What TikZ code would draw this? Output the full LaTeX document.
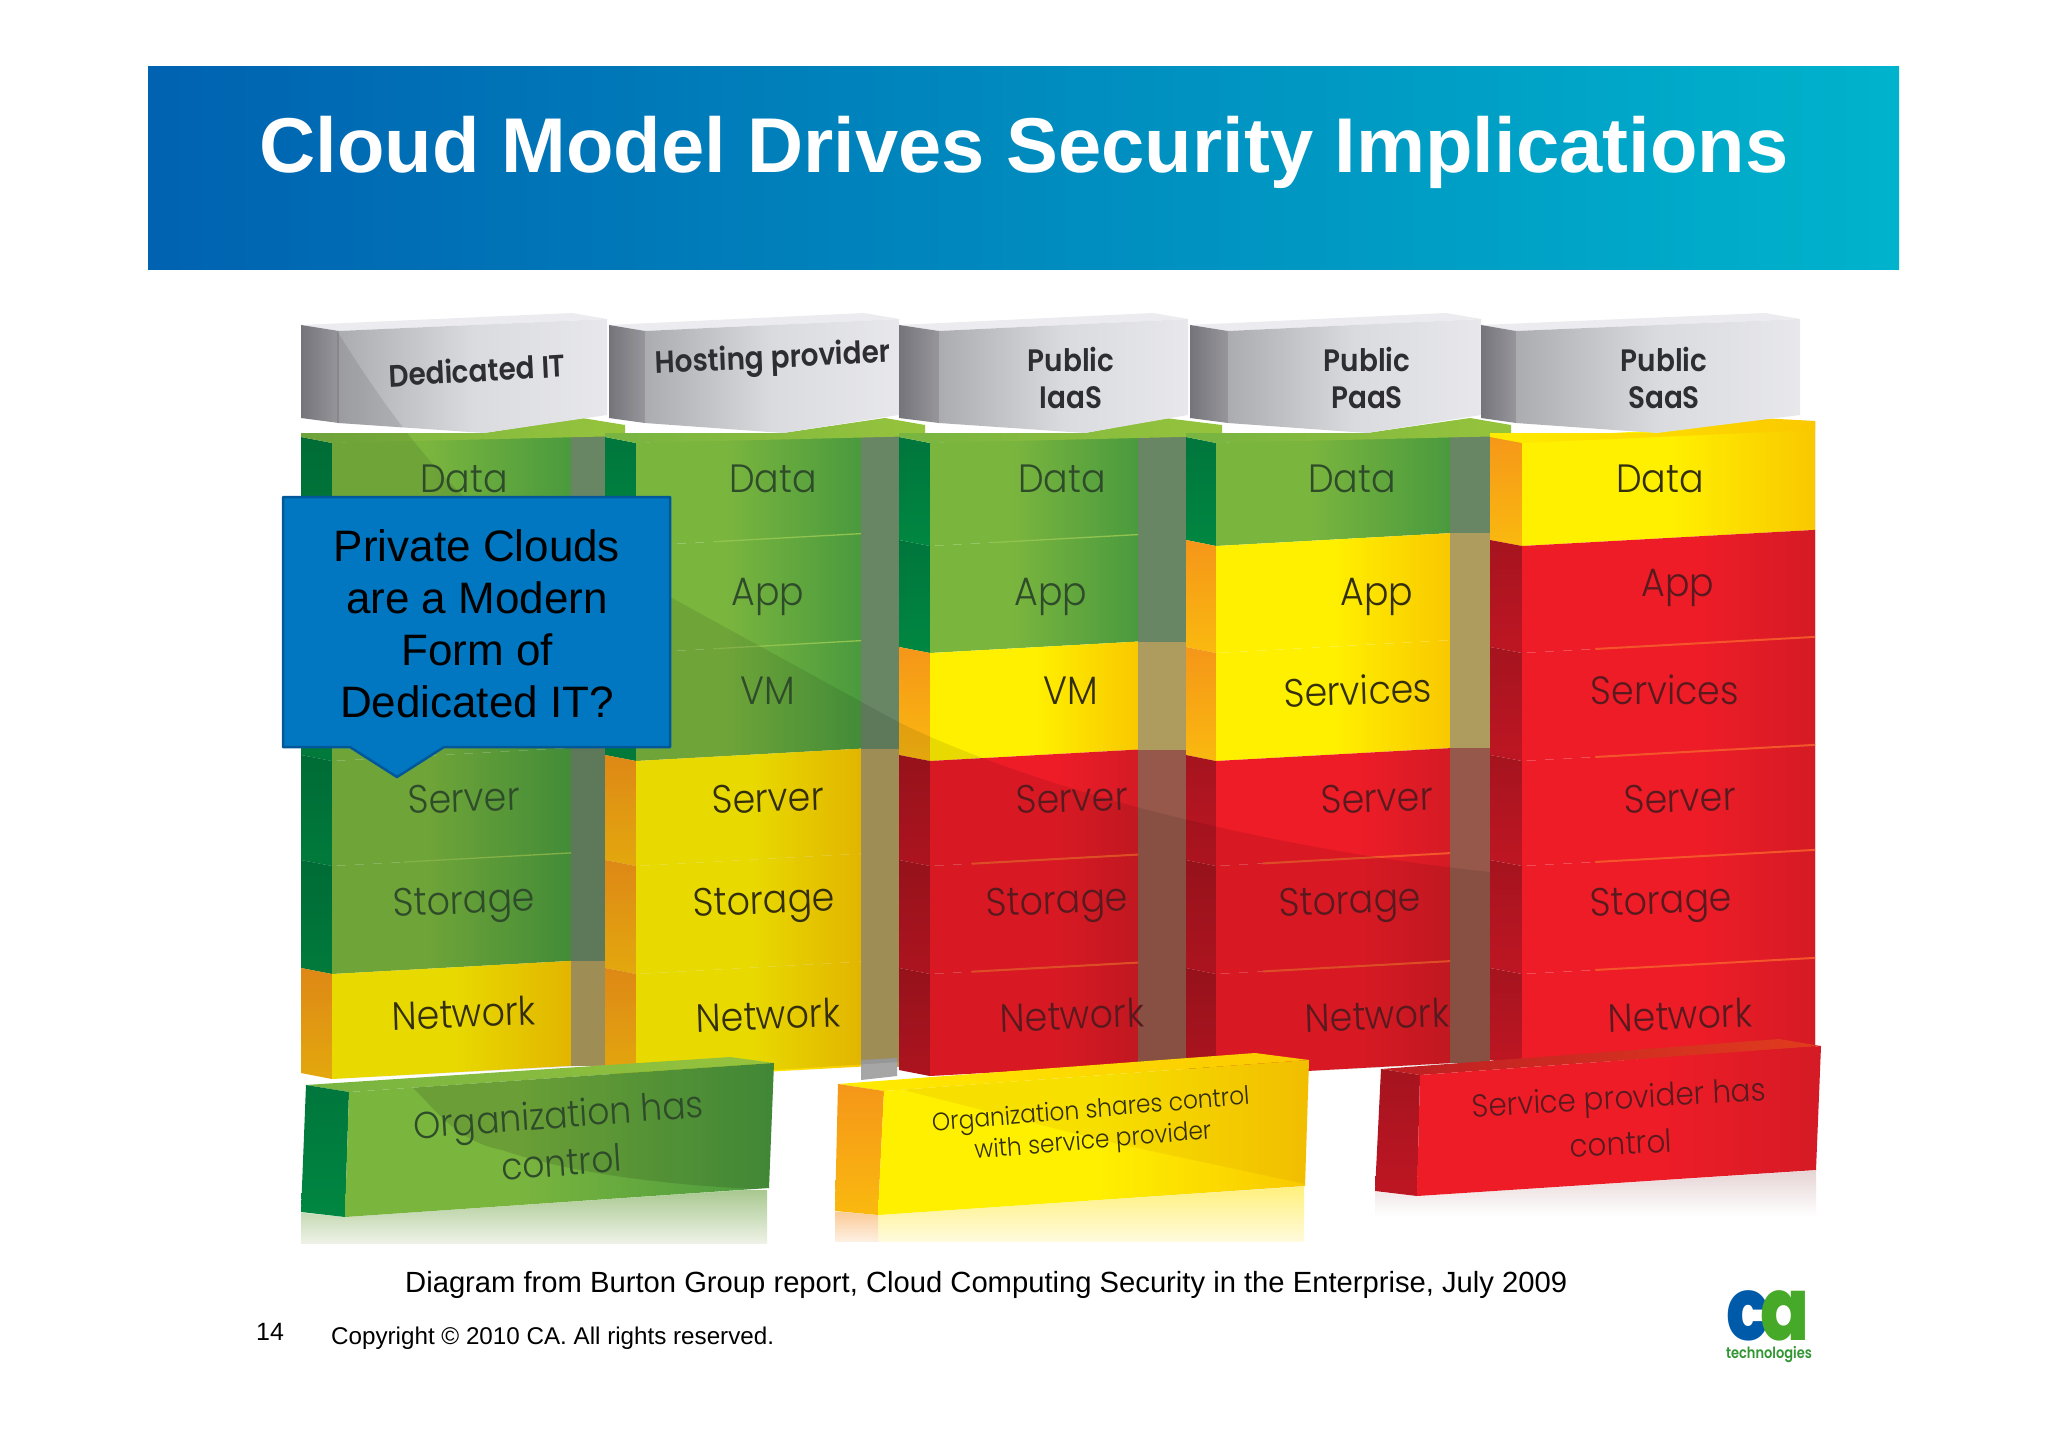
\documentclass[tikz,border=0pt]{standalone}
\usepackage{fontspec}
\setmainfont{Liberation Sans}
\newfontfamily\labf{Poppins Light}
\newfontfamily\headf{Poppins SemiBold}
\newfontfamily\logof{Poppins ExtraBold}
\usetikzlibrary{calc}
\definecolor{blueA}{HTML}{0062B1}
\definecolor{blueM}{HTML}{0086BE}
\definecolor{blueB}{HTML}{00B3CC}
\definecolor{onG}{HTML}{2F4C2A}
\definecolor{onY}{HTML}{332E0C}
\definecolor{onR}{HTML}{581A1E}
\definecolor{gl}{HTML}{7AB53E}
\definecolor{gr}{HTML}{4A9A3E}
\definecolor{yl}{HTML}{FFF000}
\definecolor{yr}{HTML}{F9C800}
\definecolor{rl}{HTML}{EE1C27}
\definecolor{rr}{HTML}{D41B25}
\definecolor{sGa}{HTML}{00763C}
\definecolor{sGb}{HTML}{008741}
\definecolor{sYa}{HTML}{F59619}
\definecolor{sYb}{HTML}{FAB90F}
\definecolor{sRa}{HTML}{A5141E}
\definecolor{sRb}{HTML}{BE1623}
\definecolor{tG}{HTML}{688664}
\definecolor{tY}{HTML}{AE9C5E}
\definecolor{tR}{HTML}{96584A}
\definecolor{hG}{HTML}{91C350}
\definecolor{hY}{HTML}{F0E13C}
\definecolor{hR}{HTML}{F4552A}
\definecolor{lGa}{HTML}{78B441}
\definecolor{lGb}{HTML}{96C33C}
\definecolor{lYa}{HTML}{FFEC00}
\definecolor{lYb}{HTML}{FBC800}
\definecolor{hsa}{HTML}{74747A}
\definecolor{hsb}{HTML}{96969B}
\definecolor{hfa}{HTML}{AAACB0}
\definecolor{hfm}{HTML}{DADBDF}
\definecolor{hfb}{HTML}{E8E8EC}
\definecolor{htp}{HTML}{ECECF0}
\definecolor{headc}{HTML}{2D2D32}
\definecolor{rfGa}{HTML}{A9C890}
\definecolor{rfGb}{HTML}{EDF2E6}
\definecolor{rfYa}{HTML}{FFF07A}
\definecolor{rfYb}{HTML}{FFFBDC}
\definecolor{rfOa}{HTML}{FBCB98}
\definecolor{rfOb}{HTML}{FDF0E2}
\definecolor{rfR}{HTML}{E6D4D4}
\definecolor{ysh}{HTML}{C88200}
\definecolor{rta}{HTML}{BE1E23}
\definecolor{rtm}{HTML}{F26423}
\definecolor{rtb}{HTML}{E13C1E}
\definecolor{callf}{HTML}{0077C0}
\definecolor{calld}{HTML}{00589B}
\definecolor{logob}{HTML}{005AAA}
\definecolor{logog}{HTML}{46AA28}
\definecolor{logot}{HTML}{329632}
\pgfdeclarehorizontalshading{shadeG}{100bp}{color(0bp)=(gl); color(45bp)=(gl); color(75bp)=(gr); color(100bp)=(gr)}
\pgfdeclarehorizontalshading{shadeY}{100bp}{color(0bp)=(yl); color(50bp)=(yl); color(75bp)=(yr); color(100bp)=(yr)}
\pgfdeclarehorizontalshading{shadeR}{100bp}{color(0bp)=(rl); color(55bp)=(rl); color(75bp)=(rr); color(100bp)=(rr)}
\tikzset{
  faceG/.style={shade,shading=shadeG},
  faceY/.style={shade,shading=shadeY},
  faceR/.style={shade,shading=shadeR},
  sideG/.style={top color=sGa,bottom color=sGb},
  sideY/.style={top color=sYa,bottom color=sYb},
  sideR/.style={top color=sRa,bottom color=sRb},
  stripG/.style={fill=tG},
  stripY/.style={fill=tY},
  stripR/.style={fill=tR},
  hlG/.style={draw=hG,line width=1.3pt},
  hlY/.style={draw=hY,line width=.8pt},
  hlR/.style={draw=hR,line width=2pt},
  lipG/.style={left color=lGa,right color=lGb},
  lipY/.style={left color=lYa,right color=lYb},
  hsidef/.style={left color=hsa,right color=hsb},
  hfrontf/.style={left color=hfa,right color=hfb,middle color=hfm},
  htopf/.style={fill=htp},
  cellt/.style={font=\labf\fontsize{39.5}{39.5}\selectfont,inner sep=0pt,xscale=.92},
  headt/.style={font=\headf\fontsize{31}{31}\selectfont,inner sep=0pt,text=headc,xscale=.9},
  boxt/.style={inner sep=0pt,xscale=.92,align=center},
  shadowf/.style={fill=black,fill opacity=.09,draw=none},
}
% x-side-left, x-front-left, x-front-right, x-strip-right, y-top, y-next, kind
\newcommand\cellblk[7]{%
  \pgfmathsetmacro\ya{#5}\pgfmathsetmacro\yb{#5+6}\pgfmathsetmacro\yc{#6}\pgfmathsetmacro\yd{#6+6}%
  \pgfmathsetmacro\dy{0.055*(#3-#2)}%
  \pgfmathsetmacro\ye{\yb-\dy}\pgfmathsetmacro\yf{\yd-\dy}%
  \path[side#7] (#1,\ya)--(#2,\yb)--(#2,\yd)--(#1,\yc)--cycle;
  \path[face#7] (#2,\yb)--(#3,\ye)--(#3,\yf)--(#2,\yd)--cycle;
  \path[strip#7] (#3,\ye)--(#4,\ye)--(#4,\yf)--(#3,\yf)--cycle;
}
\newcommand\cellline[5]{% xf, xr, y-top, x-start-frac, kind
  \pgfmathsetmacro\yb{#3+6}\pgfmathsetmacro\dy{0.055*(#2-#1)}\pgfmathsetmacro\ye{\yb-\dy}%
  \draw[hl#5] ($(#1,\yb)!#4!(#2,\ye)$)--(#2,\ye);
}
\newcommand\colblk[5]{% xs xf xr xe kinds
  \foreach \ta/\tb/\k in {#5}{\cellblk{#1}{#2}{#3}{#4}{\ta}{\tb}{\k}}
}
\newcommand\lbl[6]{\node[cellt,rotate=#4,text=#5] (#1) at (#2,#3) {#6};}
\begin{document}
\begin{tikzpicture}[x=1pt,y=-1pt]
\useasboundingbox (0,0) rectangle (2048,1447);
\fill[white] (0,0) rectangle (2048,1447);
% banner
\shade[left color=blueA,middle color=blueM,right color=blueB] (148,67) rectangle (1899,270);
\node[anchor=base,inner sep=0pt,text=white,font=\bfseries\fontsize{77.7}{78}\selectfont] (title) at (1024,173) {Cloud Model Drives Security Implications};
% columns
\colblk{301}{332}{571}{605}{437/540/G,540/647/G,647/755/G,755/860/G,860/968/G,968/1073/Y}
\colblk{605}{636}{861}{899}{437/540/G,540/647/G,647/755/G,755/860/Y,860/968/Y,968/1073/Y}
\colblk{899}{930}{1138}{1186}{437/540/G,540/647/G,647/755/Y,755/860/R,860/968/R,968/1070/R}
\colblk{1186}{1216}{1450}{1490}{437/540/G,540/647/Y,647/755/Y,755/860/R,860/968/R,968/1070/R}
\colblk{1490}{1522}{1815}{1815}{432/540/Y,540/647/R,647/755/R,755/860/R,860/968/R,968/1060/R}
\fill[gray!70!white] (861,1060) -- (897,1058) -- (897,1076) -- (861,1080) -- cycle;
% row highlights
\foreach \y/\k in {540/G,647/G}{\cellline{636}{861}{\y}{.35}{\k}}
\foreach \y/\k in {540/G,860/Y,968/Y}{\cellline{930}{1138}{\y}{.3}{\k}}
\foreach \y/\k in {860/G}{\cellline{332}{571}{\y}{.3}{\k}}
\foreach \y/\k in {860/R,968/R}{\cellline{930}{1138}{\y}{.2}{\k}\cellline{1216}{1450}{\y}{.2}{\k}}
\foreach \y/\k in {647/R,755/R,860/R,968/R}{\cellline{1522}{1815}{\y}{.25}{\k}}
% tops of columns
\path[lipG] (301,433)--(484,433)--(582,418)--(625,425)--(625,436)--(332,443)--(301,437)--cycle;
\path[lipG] (605,433)--(783,433)--(885,418)--(925,425)--(925,436)--(636,443)--(605,437)--cycle;
\path[lipG] (899,433)--(1085,433)--(1165,418)--(1222,425)--(1222,436)--(930,443)--(899,437)--cycle;
\path[lipG] (1186,433)--(1367,433)--(1470,418)--(1511,425)--(1511,436)--(1216,443)--(1186,437)--cycle;
\path[lipY] (1490,433)--(1657,433)--(1760,418)--(1815,421)--(1815,430)--(1522,443)--(1490,437)--cycle;
% headers
\foreach \xa/\xb/\xn/\xc in {301/339/484/607,609/645/783/899,899/939/1085/1188,1190/1228/1367/1481,1481/1516/1657/1800}{
  \pgfmathsetmacro\xt{\xc-35}
  \path[htopf] (\xa,325)--(\xb,331)--(\xc,319)--(\xt,313)--cycle;
  \path[hsidef] (\xa,325)--(\xb,331)--(\xb,423)--(\xa,418)--cycle;
  \path[hfrontf] (\xb,331)--(\xc,319)--(\xc,415)--(\xn,433)--(\xb,423)--cycle;
}
\node[headt,rotate=3] (h1) at (477,370) {Dedicated IT};
\node[headt,rotate=2.5] (h2) at (773,360) {Hosting provider};
\node[headt] (h3a) at (1071,359) {Public};
\node[headt] (h3b) at (1071,398) {IaaS};
\node[headt] (h4a) at (1367,359) {Public};
\node[headt] (h4b) at (1367,398) {PaaS};
\node[headt] (h5a) at (1664,359) {Public};
\node[headt] (h5b) at (1664,398) {SaaS};
% diagonal shadow
\begin{scope}
\clip (337,331)--(607,319)--(607,415)--(484,433)--(337,423)--cycle
      (301,433)--(484,433)--(582,418)--(625,425)--(605,437)--(605,1065)--(332,1079)--(301,1073)--cycle
      (605,433)--(783,433)--(885,418)--(899,425)--(899,1062)--(636,1079)--(605,1073)--cycle
      (899,433)--(1085,433)--(1165,418)--(1186,425)--(1186,1062)--(930,1076)--(899,1070)--cycle
      (1186,433)--(1367,433)--(1470,418)--(1490,425)--(1490,1062)--(1216,1076)--(1186,1070)--cycle;
\path[shadowf] (337,331) .. controls (380,400) and (430,470) .. (480,510)
  -- (670,597) -- (900,723) .. controls (1050,795) and (1280,850) .. (1490,872)
  -- (1490,1090) -- (295,1090) -- (295,425) -- (337,425) -- cycle;
\end{scope}
% cell labels
\lbl{c1a}{464}{479}{0}{onG}{Data}
\lbl{c1d}{464}{798}{2}{onG}{Server}
\lbl{c1e}{464}{905}{2}{onG}{Storage}
\lbl{c1f}{464}{1013}{2}{onY}{Network}
\lbl{c2a}{773}{479}{0}{onG}{Data}
\lbl{c2b}{768}{597}{0}{onG}{App}
\lbl{c2c}{768}{691}{0}{onG}{VM}
\lbl{c2d}{768}{798}{2}{onY}{Server}
\lbl{c2e}{764}{905}{2}{onY}{Storage}
\lbl{c2f}{768}{1015}{2}{onY}{Network}
\lbl{c3a}{1062}{479}{0}{onG}{Data}
\lbl{c3b}{1051}{597}{0}{onG}{App}
\lbl{c3c}{1071}{691}{0}{onY}{VM}
\lbl{c3d}{1072}{798}{2}{onR}{Server}
\lbl{c3e}{1057}{905}{2}{onR}{Storage}
\lbl{c3f}{1072}{1015}{2}{onR}{Network}
\lbl{c4a}{1352}{479}{0}{onG}{Data}
\lbl{c4b}{1377}{597}{0}{onY}{App}
\lbl{c4c}{1358}{690}{2}{onY}{Services}
\lbl{c4d}{1377}{798}{2}{onR}{Server}
\lbl{c4e}{1350}{905}{2}{onR}{Storage}
\lbl{c4f}{1377}{1015}{2}{onR}{Network}
\lbl{c5a}{1660}{479}{0}{onY}{Data}
\lbl{c5b}{1678}{588}{0}{onR}{App}
\lbl{c5c}{1665}{690}{0}{onR}{Services}
\lbl{c5d}{1680}{798}{2}{onR}{Server}
\lbl{c5e}{1661}{905}{2}{onR}{Storage}
\lbl{c5f}{1680}{1015}{2}{onR}{Network}
% bottom boxes: reflections
\shade[top color=rfGa,bottom color=rfGb] (301,1190) rectangle (767,1243);
\shade[top color=rfYa,bottom color=rfYb] (835,1185) rectangle (1304,1241);
\shade[top color=rfOa,bottom color=rfOb] (835,1212) rectangle (878,1241);
\shade[top color=rfR,bottom color=white] (1375,1170) rectangle (1816,1216);
\fill[white] (295,1180)--(772,1180)--(772,1188)--(345,1217)--(295,1212)--cycle;
\fill[white] (830,1175)--(1310,1175)--(1310,1186)--(878,1215)--(830,1211)--cycle;
\fill[white] (1370,1165)--(1822,1165)--(1822,1170)--(1417,1196)--(1370,1191)--cycle;
% green box
\path[lipG] (306,1085)--(730,1057)--(774,1063)--(349,1092)--cycle;
\path[sideG] (306,1085)--(349,1092)--(345,1217)--(301,1212)--cycle;
\path[faceG] (349,1092)--(774,1063)--(769,1188)--(345,1217)--cycle;
\begin{scope}
\clip (349,1092)--(774,1063)--(769,1188)--(345,1217)--cycle;
\path[fill=black,fill opacity=.12] (404,1080) .. controls (430,1100) and (450,1140) .. (502,1150) .. controls (560,1170) and (650,1185) .. (775,1190) -- (780,1050) -- cycle;
\end{scope}
% yellow box
\path[lipY] (838,1084)--(1255,1053)--(1309,1060)--(884,1091)--cycle;
\path[sideY] (838,1084)--(884,1091)--(878,1215)--(835,1211)--cycle;
\path[faceY] (884,1091)--(1309,1060)--(1305,1186)--(878,1215)--cycle;
\begin{scope}
\clip (884,1091)--(1309,1060)--(1305,1186)--(878,1215)--cycle;
\path[fill=ysh,fill opacity=.14] (1100,1140)--(1305,1184)--(1315,1050)--(884,1085)--cycle;
\end{scope}
% red box
\path[left color=rta,middle color=rtm,right color=rtb] (1381,1069)--(1779,1039)--(1821,1046)--(1420,1075)--cycle;
\path[sideR] (1381,1069)--(1420,1075)--(1417,1196)--(1375,1191)--cycle;
\path[faceR] (1420,1075)--(1821,1046)--(1816,1170)--(1417,1196)--cycle;
% box labels
\node[boxt,rotate=4,text=onG,font=\labf\fontsize{37.5}{48}\selectfont] (b1) at (560,1138) {Organization has\\control};
\node[boxt,rotate=4.5,text=onY,font=\labf\fontsize{25.3}{31}\selectfont] (b2) at (1092,1127) {Organization shares control\\with service provider};
\node[boxt,rotate=3,text=onR,font=\labf\fontsize{31.8}{46}\selectfont] (b3) at (1620,1120) {Service provider has\\control};
% callout
\path[fill=callf,draw=calld,line width=2.5pt,line join=round]
 (283,497)--(670,497)--(670,747)--(444,747)--(397,777)--(350,747)--(283,747)--cycle;
\node[align=center,inner sep=0pt,font=\fontsize{44}{52}\selectfont] (callout) at (477,624) {Private Clouds\\are a Modern\\Form of\\Dedicated IT?};
% footer
\node[anchor=base west,inner sep=0pt,font=\fontsize{29.2}{30}\selectfont] (src) at (405,1292) {Diagram from Burton Group report, Cloud Computing Security in the Enterprise, July 2009};
\node[anchor=base west,inner sep=0pt,font=\fontsize{24.2}{25}\selectfont] (copy) at (331,1344) {Copyright © 2010 CA. All rights reserved.};
\node[anchor=base west,inner sep=0pt,font=\fontsize{25}{25}\selectfont] (page) at (256,1340) {14};
% logo
\node[anchor=base,inner sep=0pt,yscale=1.22,font=\logof\fontsize{72}{72}\selectfont,text=logob] (logoc) at (1748,1340) {c};
\node[anchor=base,inner sep=0pt,yscale=1.22,font=\logof\fontsize{72}{72}\selectfont,text=logog] (logoa) at (1785,1340) {a};
\node[anchor=north,inner sep=0pt,xscale=.84,font=\headf\fontsize{15.5}{15.5}\selectfont,text=logot] (logot) at (1769,1346) {technologies};
\end{tikzpicture}
\end{document}
